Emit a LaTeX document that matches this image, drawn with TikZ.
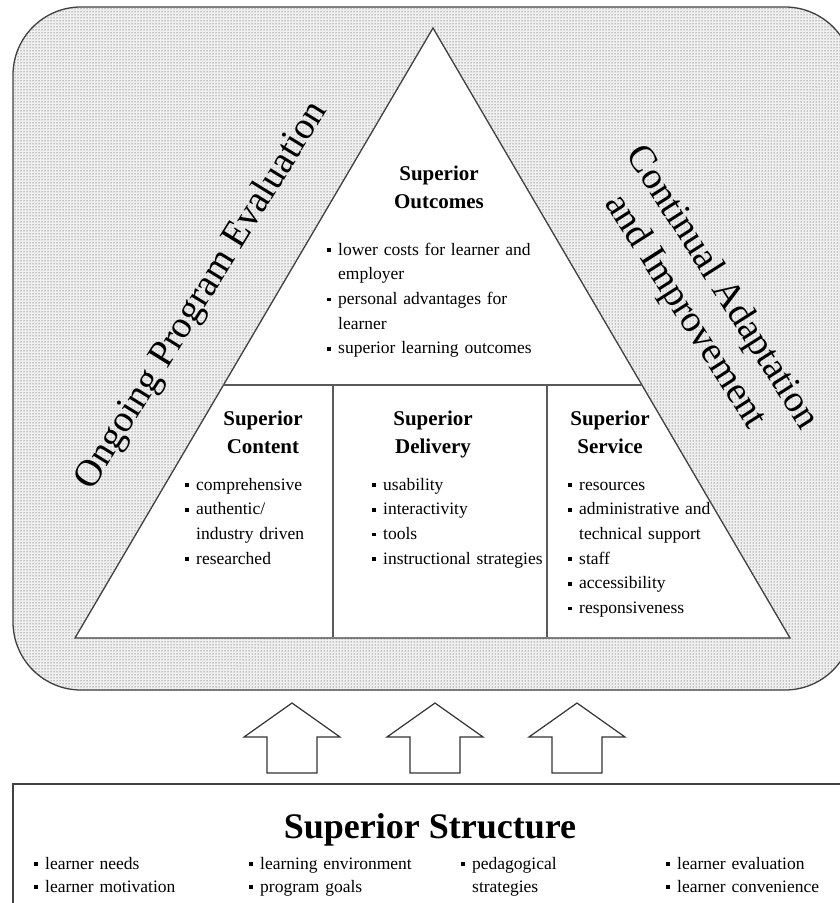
\documentclass[tikz,border=0pt]{standalone}
\usepackage{fontspec}
\setmainfont{Liberation Serif}
\usetikzlibrary{patterns,calc}
\newcommand\bul{\leavevmode\llap{\rule[3.2pt]{3.6pt}{3.6pt}\hspace{7.5pt}}}
\begin{document}
\begin{tikzpicture}[x=1pt,y=-1pt,
  frame/.style={draw=black!75, line width=1.3pt},
  divider/.style={draw=black!65, line width=1.6pt},
  hdr/.style={font=\fontsize{21}{28}\selectfont\bfseries, align=center, text width=130pt, inner sep=0pt, anchor=base},
  lst/.style={font=\fontsize{17.5}{24.7}\selectfont, align=left, inner sep=0pt, anchor=base west},
  lstb/.style={font=\fontsize{17.5}{23}\selectfont, align=left, inner sep=0pt, anchor=base west, text width=200pt},
  big/.style={font=\fontsize{38}{44}\selectfont, inner sep=0pt, align=center},
  uparrow/.style={draw=black!80, line width=1.2pt, fill=white}]
\useasboundingbox (0,0) rectangle (840,903);
\begin{scope}
\clip (0,0) rectangle (840,903);
% dotted rounded frame
\path[frame, rounded corners=68pt, preaction={fill=gray!12}, pattern=dots, pattern color=black!80] (13,7) rectangle (853,690);
% triangle
\coordinate (A) at (433,28);
\coordinate (BL) at (75,638);
\coordinate (BR) at (790,638);
\draw[frame, fill=white] (A) -- (BR) -- (BL) -- cycle;
\coordinate (DL) at ($(BL)!0.4148!(A)$);
\coordinate (DR) at ($(BR)!0.4148!(A)$);
\draw[divider] (DL) -- (DR);
\coordinate (V1t) at (333,385);
\coordinate (V1b) at (333,637);
\coordinate (V2t) at (547,385);
\coordinate (V2b) at (547,637);
\draw[divider] (V1t) -- (V1b);
\draw[divider] (V2t) -- (V2b);
% arrows
\foreach \cx in {292,435,577}{
  \draw[uparrow] (\cx,703) -- (\cx+48,737) -- (\cx+25,737) -- (\cx+25,773) -- (\cx-25,773) -- (\cx-25,737) -- (\cx-48,737) -- cycle;
}
% bottom box
\draw[frame, line width=1.6pt] (13,930) -- (13,784) -- (855,784) -- (855,930);
\end{scope}

% texts in triangle
\node[hdr] (outH) at (439,180) {Superior\\Outcomes};
\node[lst, text width=210pt] (outL) at (338,255) {\bul lower costs for learner and\\employer\\\bul personal advantages for\\learner\\\bul superior learning outcomes};
\node[hdr] (conH) at (263,425) {Superior\\Content};
\node[lst, text width=140pt] (conL) at (196,490) {\bul comprehensive\\\bul authentic/\\industry driven\\\bul researched};
\node[hdr] (delH) at (433,425) {Superior\\Delivery};
\node[lst, text width=165pt] (delL) at (383,490) {\bul usability\\\bul interactivity\\\bul tools\\\bul instructional strategies};
\node[hdr] (serH) at (610,425) {Superior\\Service};
\node[lst, text width=160pt] (serL) at (579,490) {\bul resources\\\bul administrative and\\technical support\\\bul staff\\\bul accessibility\\\bul responsiveness};

% rotated side texts
\node[big, rotate=58.3] (ope) at (202,296) {Ongoing Program Evaluation};
\node[big, rotate=-57.5] (cai) at (703,300) {Continual Adaptation\\and Improvement};

% bottom
\node[font=\fontsize{36}{40}\selectfont\bfseries, anchor=base, inner sep=0pt] (ss) at (430,838) {Superior Structure};
\node[lstb] (b1) at (45,869) {\bul learner needs\\\bul learner motivation};
\node[lstb] (b2) at (260,869) {\bul learning environment\\\bul program goals};
\node[lstb] (b3) at (472,869) {\bul pedagogical\\strategies};
\node[lstb] (b4) at (677,869) {\bul learner evaluation\\\bul learner convenience};
\end{tikzpicture}
\end{document}
